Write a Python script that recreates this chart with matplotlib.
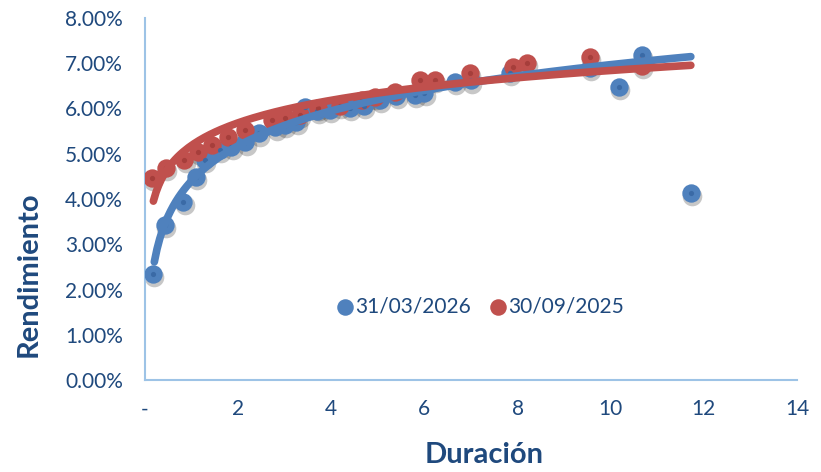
import numpy as np
import matplotlib.pyplot as plt
from matplotlib.ticker import FuncFormatter

plt.rcParams['font.family'] = ['Lato', 'DejaVu Sans']

# duration (years) and yield (%) per series
dur_mar26 = [0.17, 0.43, 0.82, 1.09, 1.29, 1.60, 1.85, 2.15, 2.45, 2.80, 3.00, 3.25, 3.43,
             3.70, 3.97, 4.40, 4.70, 5.04, 5.40, 5.79, 6.00, 6.65, 7.00, 7.83, 9.55,
             10.17, 10.67, 11.72]
yld_mar26 = [2.34, 3.43, 3.93, 4.49, 4.86, 5.08, 5.15, 5.25, 5.45, 5.58, 5.63, 5.70, 6.03,
             5.95, 5.97, 6.01, 6.05, 6.19, 6.28, 6.30, 6.35, 6.59, 6.62, 6.78, 6.90,
             6.47, 7.18, 4.13]

dur_sep25 = [0.15, 0.45, 0.84, 1.14, 1.44, 1.78, 2.15, 2.73, 3.00, 3.33, 3.71, 4.18, 4.66,
             4.94, 5.36, 5.90, 6.22, 6.97, 7.90, 8.20, 9.55, 10.67]
yld_sep25 = [4.46, 4.69, 4.86, 5.04, 5.19, 5.37, 5.52, 5.75, 5.79, 5.86, 6.01, 6.06, 6.19,
             6.26, 6.36, 6.63, 6.63, 6.78, 6.92, 7.00, 7.14, 6.94]

# points left out of the log trend fit (the 11.7y outlier)
fit_n_mar26 = len(dur_mar26) - 1
fit_n_sep25 = len(dur_sep25)

series = [("31/03/2026", dur_mar26, yld_mar26, fit_n_mar26, "#4F81BD", "#3A6AA6"),
          ("30/09/2025", dur_sep25, yld_sep25, fit_n_sep25, "#C0504D", "#A63E3B")]

text_col = "#1F497D"
axis_col = "#9DC3E6"

fig = plt.figure(figsize=(8.21, 4.72), dpi=100)
ax = fig.add_axes([0.1766, 0.1949, 0.7942, 0.767])

for label, x, y, n, col, dark in series:
    x = np.array(x)
    y = np.array(y) / 100
    # soft shadow
    ax.scatter(x + 0.03, y - 0.0007, s=200, color="black", alpha=0.22, lw=0, zorder=2)
    ax.scatter(x, y, s=175, color=col, lw=0, zorder=3, label=label)
    ax.scatter(x, y, s=14, color=dark, lw=0, zorder=4)

# logarithmic trendlines
x_end = max(max(dur_mar26), max(dur_sep25))
for label, x, y, n, col, dark in series:
    x = np.array(x)
    y = np.array(y) / 100
    b, a = np.polyfit(np.log(x[:n]), y[:n], 1)
    xs = np.linspace(x.min() + 0.03, x_end, 200)
    ax.plot(xs, a + b * np.log(xs), color=col, lw=5.5, solid_capstyle="round", zorder=5)

ax.set_xlim(0, 14)
ax.set_ylim(0, 0.08)
ax.set_xticks(range(0, 15, 2))
ax.set_yticks(np.arange(0, 0.081, 0.01))
ax.xaxis.set_major_formatter(FuncFormatter(lambda v, p: "-" if v == 0 else f"{v:.0f}"))
ax.yaxis.set_major_formatter(FuncFormatter(lambda v, p: f"{v * 100:.2f}%"))
ax.tick_params(length=0, labelsize=15, colors=text_col)
ax.tick_params(axis="y", pad=16)
ax.tick_params(axis="x", pad=14)

for s in ["top", "right"]:
    ax.spines[s].set_visible(False)
for s in ["left", "bottom"]:
    ax.spines[s].set_color(axis_col)
    ax.spines[s].set_linewidth(1.5)

ax.set_xlabel("Duración", fontsize=21, fontweight="bold", color=text_col)
ax.set_ylabel("Rendimiento", fontsize=21, fontweight="bold", color=text_col)
ax.xaxis.set_label_coords(0.52, -0.172)
ax.yaxis.set_label_coords(-0.158, 0.293)

ax.legend(loc="center", bbox_to_anchor=(0.514, 0.204), ncol=2, frameon=False, fontsize=15,
          labelcolor=text_col, handlelength=0.8, handletextpad=0.1, columnspacing=0.9,
          markerscale=0.9)

fig.savefig("out.png", dpi=100)
